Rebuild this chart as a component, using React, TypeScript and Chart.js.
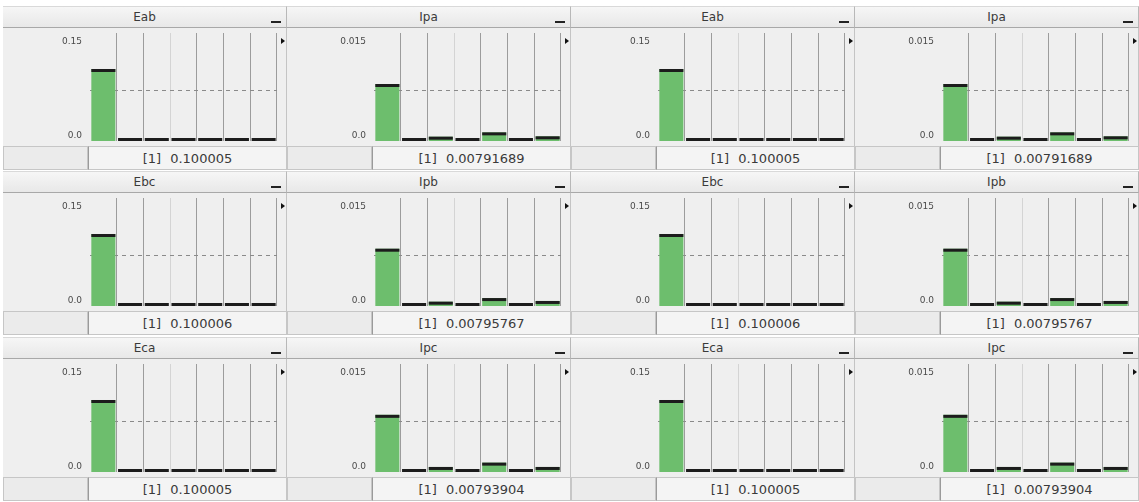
import React, { useEffect, useRef } from "react";
import { Chart, registerables } from "chart.js";

Chart.register(...registerables);
Chart.defaults.font.family = "'DejaVu Sans', sans-serif";

// ---------- data ----------
const categories = ["1", "2", "3", "4", "5", "6", "7"];

const rowETitles = ["Eab", "Ebc", "Eca"];
const rowITitles = ["Ipa", "Ipb", "Ipc"];

const eabValues = [0.100005, 0, 0, 0, 0, 0, 0];
const ebcValues = [0.100006, 0, 0, 0, 0, 0, 0];
const ecaValues = [0.100005, 0, 0, 0, 0, 0, 0];

const ipaValues = [0.00791689, 0.0001, 0.0006, 0.0001, 0.0012, 0.0001, 0.00065];
const ipbValues = [0.00795767, 0.0001, 0.0006, 0.0001, 0.0011, 0.0001, 0.0007];
const ipcValues = [0.00793904, 0.0001, 0.0007, 0.0001, 0.0013, 0.0001, 0.0007];

const eTickLabels = ["0.15", "0.0"];
const iTickLabels = ["0.015", "0.0"];
const eAxisMax = 0.15;
const iAxisMax = 0.015;
const eRefLine = 0.071;
const iRefLine = 0.0071;

const footerIndex = "[1]";
const eFooters = ["0.100005", "0.100006", "0.100005"];
const iFooters = ["0.00791689", "0.00795767", "0.00793904"];

// ---------- layout ----------
const PANEL_W = 284;
const colLefts = [3, 287, 571, 855];
const rowTops = [6, 171, 337];
const HEADER_H = 22;
const CHART_H = 118;
const FOOTER_H = 24;

const decorPlugin = {
  id: "panelDecor",
  beforeDatasetsDraw(chart: any, _args: any, opts: any) {
    const { ctx, chartArea } = chart;
    const yScale = chart.scales.y;
    const y = Math.round(yScale.getPixelForValue(opts.ref)) + 0.5;
    ctx.save();
    ctx.strokeStyle = "#8a8a8a";
    ctx.lineWidth = 1;
    ctx.setLineDash([4, 4]);
    ctx.beginPath();
    ctx.moveTo(chartArea.left, y);
    ctx.lineTo(chartArea.right, y);
    ctx.stroke();
    ctx.restore();
  },
  afterDatasetsDraw(chart: any, _args: any, opts: any) {
    const { ctx, chartArea } = chart;
    const yScale = chart.scales.y;
    const meta = chart.getDatasetMeta(0);
    ctx.save();
    ctx.fillStyle = "#1c1c1c";
    meta.data.forEach((el: any) => {
      const p = el.getProps(["x", "y", "base", "width"], true);
      const top = Math.min(p.y, p.base - 3);
      ctx.fillRect(p.x - p.width / 2, top, p.width, 3);
    });
    // y labels
    ctx.font = "9px 'DejaVu Sans'";
    ctx.fillStyle = "#4a4a4a";
    ctx.textAlign = "right";
    ctx.textBaseline = "middle";
    ctx.fillText(opts.labels[0], chartArea.left - 8, yScale.getPixelForValue(yScale.max) + 9);
    ctx.fillText(opts.labels[1], chartArea.left - 8, yScale.getPixelForValue(0) - 5);
    // small arrow
    ctx.fillStyle = "#111";
    ctx.beginPath();
    const tx = chartArea.right + 4;
    const ty = chartArea.top + 5;
    ctx.moveTo(tx, ty);
    ctx.lineTo(tx + 4, ty + 3);
    ctx.lineTo(tx, ty + 6);
    ctx.closePath();
    ctx.fill();
    ctx.restore();
  },
};

type PanelProps = {
  title: string;
  values: number[];
  max: number;
  labels: string[];
  refValue: number;
  footer: string;
  left: number;
  top: number;
};

function Panel({ title, values, max, labels, refValue, footer, left, top }: PanelProps) {
  const ref = useRef<HTMLCanvasElement | null>(null);
  useEffect(() => {
    if (!ref.current) return;
    const chart = new Chart(ref.current, {
      type: "bar",
      data: {
        labels: categories,
        datasets: [
          {
            data: values,
            backgroundColor: "#6dbe6d",
            borderWidth: 0,
            barPercentage: 0.9,
            categoryPercentage: 1,
          },
        ],
      },
      options: {
        responsive: false,
        animation: false,
        devicePixelRatio: 1,
        layout: { padding: { left: 87, right: 9, top: 5, bottom: 5 } },
        plugins: {
          legend: { display: false },
          tooltip: { enabled: false },
          panelDecor: { ref: refValue, labels },
        } as any,
        scales: {
          x: {
            display: true,
            offset: true,
            ticks: { display: false },
            border: { display: false },
            grid: {
              offset: true,
              drawTicks: false,
              lineWidth: 1,
              color: (c: any) =>
                c.index === 0 ? "rgba(0,0,0,0)" : c.index === 3 ? "#d4d4d4" : "#9c9c9c",
            },
          },
          y: { display: false, min: 0, max },
        },
      },
      plugins: [decorPlugin],
    });
    return () => chart.destroy();
  }, []);

  return (
    <div style={{ position: "absolute", left, top, width: PANEL_W, height: HEADER_H + CHART_H + FOOTER_H }}>
      <div
        style={{
          position: "absolute",
          left: 0,
          top: 0,
          width: PANEL_W,
          height: HEADER_H,
          boxSizing: "border-box",
          background: "linear-gradient(#f6f6f6, #e8e8e8)",
          borderTop: "1px solid #d9d9d9",
          borderBottom: "1px solid #a8a8a8",
          borderRight: "1px solid #b8b8b8",
          font: "12px 'DejaVu Sans'",
          color: "#3a3a3a",
          textAlign: "center",
          lineHeight: HEADER_H - 2 + "px",
        }}
      >
        {title}
        <div style={{ position: "absolute", right: 5, top: 14, width: 10, height: 2, background: "#222" }} />
      </div>
      <div
        style={{
          position: "absolute",
          left: 0,
          top: HEADER_H,
          width: PANEL_W,
          height: CHART_H,
          background: "#efefef",
          boxSizing: "border-box",
          borderRight: "1px solid #c4c4c4",
        }}
      >
        <canvas ref={ref} width={PANEL_W - 1} height={CHART_H} style={{ display: "block" }} />
      </div>
      <div
        style={{
          position: "absolute",
          left: 0,
          top: HEADER_H + CHART_H,
          width: 85,
          height: FOOTER_H,
          boxSizing: "border-box",
          background: "#ebebeb",
          border: "1px solid #c6c6c6",
        }}
      />
      <div
        style={{
          position: "absolute",
          left: 85,
          top: HEADER_H + CHART_H,
          width: PANEL_W - 85,
          height: FOOTER_H,
          boxSizing: "border-box",
          background: "#f4f4f4",
          border: "1px solid #c6c6c6",
          borderLeft: "1px solid #9a9a9a",
          font: "13px 'DejaVu Sans'",
          color: "#3a3a3a",
          textAlign: "center",
          lineHeight: FOOTER_H + "px",
          whiteSpace: "pre",
        }}
      >
        <span style={{ marginRight: 9 }}>{footerIndex}</span>
        {footer}
      </div>
    </div>
  );
}

export default function App() {
  const eSeries = [eabValues, ebcValues, ecaValues];
  const iSeries = [ipaValues, ipbValues, ipcValues];
  const panels: any[] = [];
  rowTops.forEach((top, r) => {
    colLefts.forEach((left, c) => {
      const isE = c % 2 === 0;
      panels.push(
        <Panel
          key={r + "-" + c}
          title={isE ? rowETitles[r] : rowITitles[r]}
          values={isE ? eSeries[r] : iSeries[r]}
          max={isE ? eAxisMax : iAxisMax}
          labels={isE ? eTickLabels : iTickLabels}
          refValue={isE ? eRefLine : iRefLine}
          footer={isE ? eFooters[r] : iFooters[r]}
          left={left}
          top={top}
        />
      );
    });
  });
  return (
    <div
      style={{
        position: "absolute",
        left: 0,
        top: 0,
        width: 1139,
        height: 502,
        overflow: "hidden",
        background: "#ffffff",
      }}
    >
      {panels}
    </div>
  );
}
